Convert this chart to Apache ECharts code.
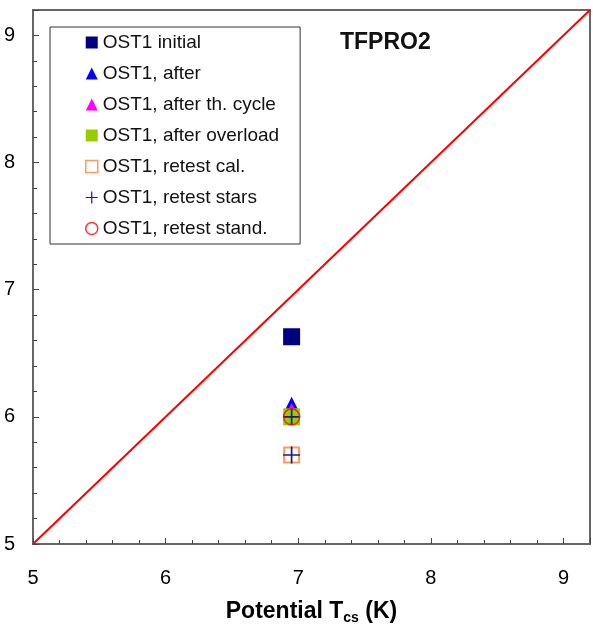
<!DOCTYPE html>
<html>
<head>
<meta charset="utf-8">
<script src="https://cdn.jsdelivr.net/npm/echarts@6/dist/echarts.min.js"></script>
<style>
  html, body { margin: 0; padding: 0; background: #fff; }
  #chart { width: 593px; height: 626px; }
</style>
</head>
<body>
<div id="chart"></div>
<script>
// Measured critical temperature vs. potential T_cs for sample OST1 (TFPRO2)
const seriesNames = [
  'OST1 initial',
  'OST1, after',
  'OST1, after th. cycle',
  'OST1, after overload',
  'OST1, retest cal.',
  'OST1, retest stars',
  'OST1, retest stand.'
];
const initialPts = [[6.95, 6.63]];
const afterPts = [[6.95, 6.1]];
const afterCyclePts = [[6.95, 6.05]];
const afterOverloadPts = [[6.95, 6.0]];
const retestCalPts = [[6.95, 5.7]];
const retestStarsPts = [[6.95, 6.0], [6.95, 5.7]];
const retestStandPts = [[6.95, 6.0]];
const diagonalPts = [[5, 5], [9.2, 9.2]];
const axisTicks = [5, 6, 7, 8, 9];

const FONT = '"Liberation Sans", Arial, sans-serif';
const PLUS = 'path://M-1,-10 L1,-10 L1,-1 L10,-1 L10,1 L1,1 L1,10 L-1,10 L-1,1 L-10,1 L-10,-1 L-1,-1 Z';
const CAL_COLOR = '#ff8033';
const STAND_COLOR = '#ff0000';

const chart = echarts.init(document.getElementById('chart'), null, { renderer: 'canvas' });

const axisCommon = {
  type: 'value',
  min: axisTicks[0],
  max: 9.2,
  interval: 1,
  axisLine: { show: true, lineStyle: { color: '#666', width: 2 } },
  axisTick: { show: true, inside: true, length: 6, lineStyle: { color: '#444', width: 1 } },
  minorTick: { show: true, splitNumber: 5, length: 4, lineStyle: { color: '#444', width: 1 } },
  splitLine: { show: false },
  axisLabel: {
    color: '#000', fontSize: 20, fontFamily: FONT,
    showMaxLabel: false,
    formatter: v => (axisTicks.indexOf(v) >= 0 ? String(v) : '')
  }
};

function scatter(name, data, symbol, size, color, extra) {
  return Object.assign({
    name, type: 'scatter', data, symbol, symbolSize: size,
    itemStyle: { color, opacity: 1 },
    emphasis: { disabled: true }
  }, extra || {});
}

chart.setOption({
  animation: false,
  backgroundColor: '#fff',
  title: {
    text: 'TFPRO2', left: 340, top: 31, padding: 0,
    textStyle: { fontSize: 23, fontWeight: 'bold', fontFamily: FONT, color: '#111' }
  },
  grid: {
    left: 33, right: 3, top: 10, bottom: 82,
    outerBoundsMode: 'none',
    containLabel: false,
    show: true, borderColor: '#666', borderWidth: 2, backgroundColor: '#fff'
  },
  legend: {
    orient: 'vertical', left: 50, top: 27,
    padding: [6, 21, 6, 35],
    itemWidth: 12, itemHeight: 12, itemGap: 12,
    backgroundColor: '#fff', borderColor: '#333', borderWidth: 1,
    textStyle: { fontSize: 19, fontFamily: FONT, color: '#111' },
    selectedMode: false,
    data: [
      { name: seriesNames[0], icon: 'rect' },
      { name: seriesNames[1], icon: 'triangle' },
      { name: seriesNames[2], icon: 'triangle' },
      { name: seriesNames[3], icon: 'rect' },
      { name: seriesNames[4], icon: 'rect',
        itemStyle: { color: '#fff', borderColor: CAL_COLOR, borderWidth: 1.5 } },
      { name: seriesNames[5], icon: PLUS },
      { name: seriesNames[6], icon: 'circle',
        itemStyle: { color: '#fff', borderColor: STAND_COLOR, borderWidth: 1.5 } }
    ]
  },
  xAxis: Object.assign({}, axisCommon, {
    name: 'Potential T{sub|cs} (K)',
    nameLocation: 'middle',
    nameGap: 55,
    nameTextStyle: {
      fontSize: 23, fontWeight: 'bold', fontFamily: FONT, color: '#000',
      rich: { sub: { fontSize: 14, fontWeight: 'bold', fontFamily: FONT, color: '#000', padding: [12, 0, 0, 0] } }
    },
    axisLabel: Object.assign({}, axisCommon.axisLabel, { margin: 24 })
  }),
  yAxis: Object.assign({}, axisCommon, {
    axisLabel: Object.assign({}, axisCommon.axisLabel, { margin: 18 })
  }),
  series: [
    {
      name: 'diagonal', type: 'line', data: diagonalPts, symbol: 'none',
      lineStyle: { color: '#ff0000', width: 2 }, z: 1, silent: true
    },
    scatter(seriesNames[0], initialPts, 'rect', 17, '#000080'),
    scatter(seriesNames[1], afterPts, 'triangle', 15, '#0000ff'),
    scatter(seriesNames[2], afterCyclePts, 'triangle', 15, '#ff00ff'),
    scatter(seriesNames[3], afterOverloadPts, 'rect', 17, '#99cc00'),
    scatter(seriesNames[4], retestCalPts, 'rect', 15, 'rgba(0,0,0,0)',
      { itemStyle: { color: 'rgba(0,0,0,0)', borderColor: CAL_COLOR, borderWidth: 2 } }),
    scatter(seriesNames[5], retestStarsPts, PLUS, 17, '#1a1a8c'),
    scatter(seriesNames[6], retestStandPts, 'circle', 16, 'rgba(0,0,0,0)',
      { itemStyle: { color: 'rgba(0,0,0,0)', borderColor: STAND_COLOR, borderWidth: 1.5 } })
  ]
});
</script>
</body>
</html>
